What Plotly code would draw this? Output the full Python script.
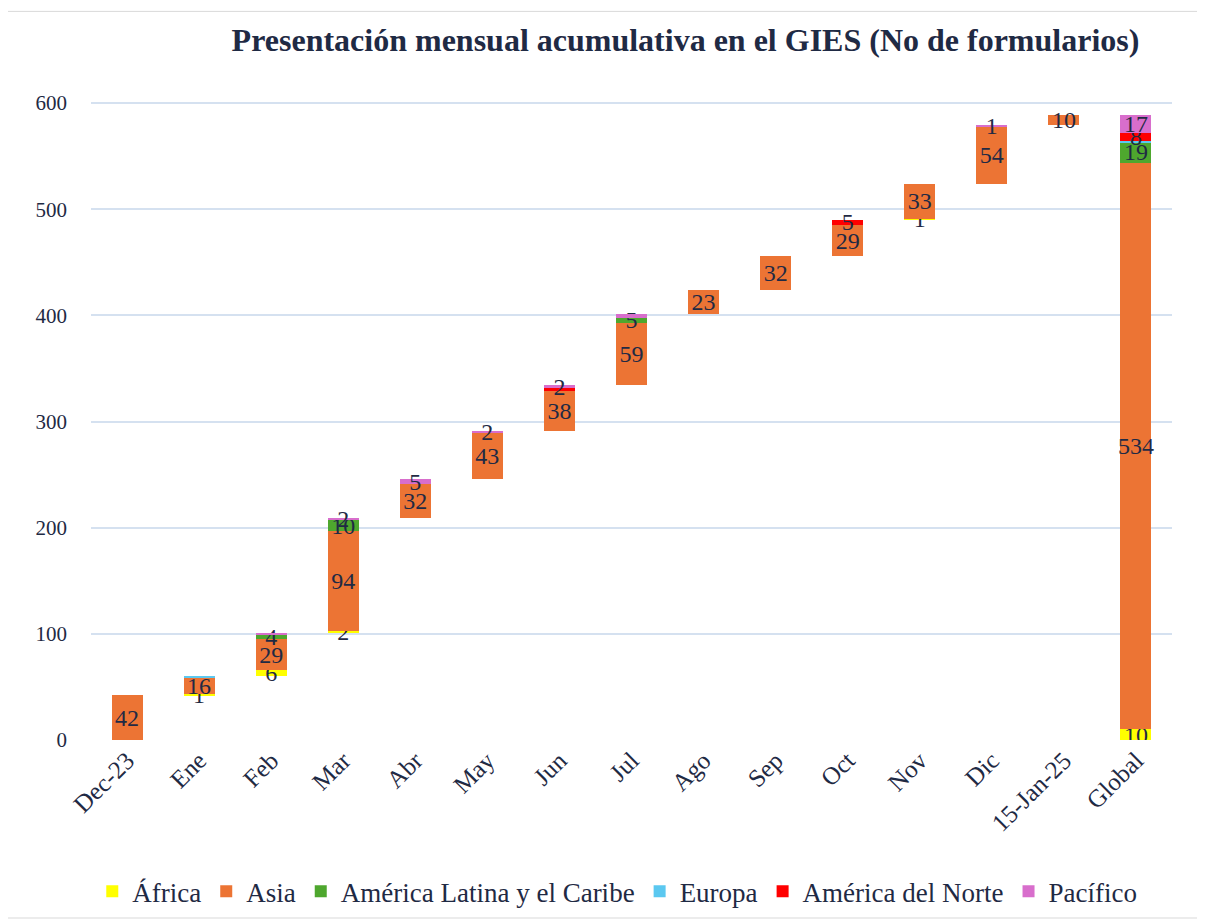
import plotly.graph_objects as go

categories = ["Dec-23", "Ene", "Feb", "Mar", "Abr", "May", "Jun", "Jul", "Ago", "Sep",
              "Oct", "Nov", "Dic", "15-Jan-25", "Global"]

africa   = [0, 1, 6, 2, 0, 0, 0, 0, 0, 0, 0, 1, 0, 0, 10]
asia     = [42, 16, 29, 94, 32, 43, 38, 59, 23, 32, 29, 33, 54, 10, 534]
alc      = [0, 0, 4, 10, 0, 0, 0, 5, 0, 0, 0, 0, 0, 0, 19]
europa   = [0, 1, 0, 0, 0, 0, 0, 0, 0, 0, 0, 0, 0, 0, 1]
norte    = [0, 0, 0, 0, 0, 0, 3, 0, 0, 0, 5, 0, 0, 0, 8]
pacifico = [0, 0, 2, 2, 5, 2, 2, 3, 0, 0, 0, 0, 1, 0, 17]

# which data labels are visible in the original chart
africa_lbl   = ["", "1", "6", "2", "", "", "", "", "", "", "", "1", "", "", "10"]
asia_lbl     = [str(v) for v in asia]
alc_lbl      = ["", "", "4", "10", "", "", "", "5", "", "", "", "", "", "", "19"]
europa_lbl   = [""] * 15
norte_lbl    = ["", "", "", "", "", "", "", "", "", "", "5", "", "", "", "8"]
pacifico_lbl = ["", "", "", "2", "5", "2", "2", "", "", "", "", "", "1", "", "17"]

series = [
    ("África", africa, africa_lbl, "#FFFF00"),
    ("Asia", asia, asia_lbl, "#EC7434"),
    ("América Latina y el Caribe", alc, alc_lbl, "#4EA72E"),
    ("Europa", europa, europa_lbl, "#5BC8F0"),
    ("América del Norte", norte, norte_lbl, "#FF0000"),
    ("Pacífico", pacifico, pacifico_lbl, "#D86ECC"),
]

# invisible base (cumulative of previous months; Global starts at 0)
totals = [sum(s[1][i] for s in series) for i in range(len(categories))]
base = []
run = 0
for i, c in enumerate(categories):
    if c == "Global":
        base.append(0)
    else:
        base.append(run)
        run += totals[i]

TXT = "#1F2A44"
FONT = "Liberation Serif"

fig = go.Figure()
fig.add_trace(go.Bar(x=categories, y=base, marker=dict(color="rgba(0,0,0,0)",
                     line=dict(width=0, color="rgba(0,0,0,0)")), opacity=0,
                     showlegend=False, hoverinfo="skip"))
for name, vals, lbls, col in series:
    fig.add_trace(go.Bar(
        x=categories, y=vals, name=name, marker=dict(color=col, line=dict(width=0)),
        text=[l if l else "" for l in lbls], textposition="inside",
        insidetextanchor="middle", textangle=0,
        textfont=dict(family=FONT, size=24, color=TXT),
    ))

fig.update_layout(
    barmode="stack",
    bargap=0.57,
    width=1197, height=913,
    paper_bgcolor="white", plot_bgcolor="white",
    margin=dict(l=83, r=33, t=94, b=181, autoexpand=False),
    uniformtext=dict(mode="show", minsize=24),
    font=dict(family=FONT, color=TXT, size=22),
    title=dict(text="<b>Presentación mensual acumulativa en el GIES (No de formularios)</b>",
               x=0.566, xref="container", xanchor="center", y=0.965, yanchor="middle",
               font=dict(family=FONT, size=32, color=TXT)),
    xaxis=dict(tickangle=-45, tickfont=dict(family=FONT, size=25, color=TXT),
               showgrid=False, showline=False, ticks="", automargin=False),
    yaxis=dict(range=[0, 601], tickvals=[0, 100, 200, 300, 400, 500, 600],
               gridcolor="#D5E1F0", gridwidth=2, zeroline=False, showline=False,
               tickfont=dict(family=FONT, size=21, color=TXT), ticklabelstandoff=23,
               automargin=False),
    legend=dict(orientation="h", x=0.509, xref="container", xanchor="center",
                y=0.032, yref="container", yanchor="middle",
                font=dict(family=FONT, size=27, color=TXT), traceorder="normal",
                itemwidth=30),
    shapes=[dict(type="rect", xref="paper", yref="paper", x0=-0.083, x1=1.027,
                 y0=-0.279, y1=1.142, line=dict(color="#D9D9D9", width=1))],
)

fig.write_html("out.html")
